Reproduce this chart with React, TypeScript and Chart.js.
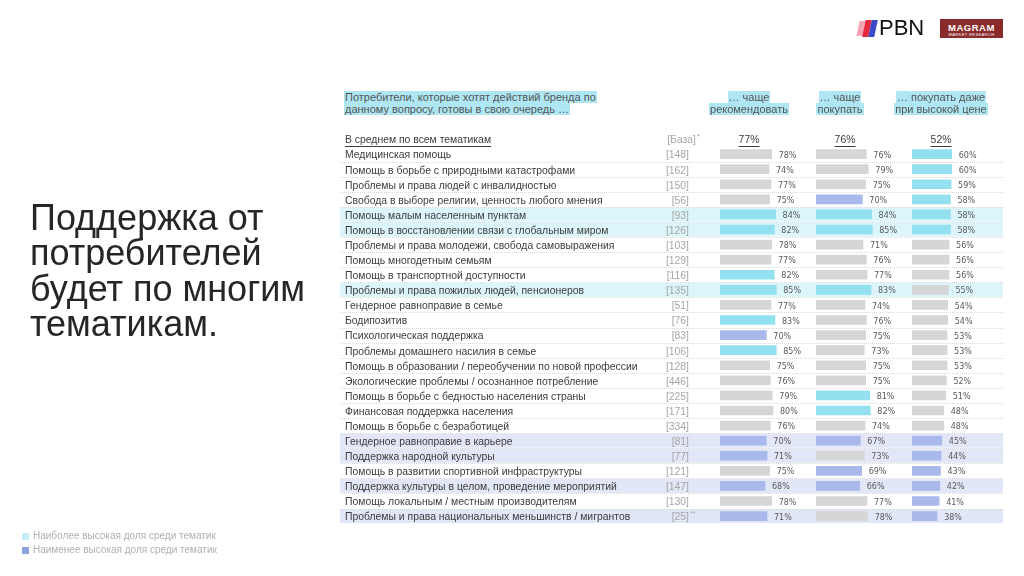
import React, { useEffect, useRef } from "react";
import { Chart, registerables } from "chart.js";

Chart.register(...registerables);

const topics = [
  "Медицинская помощь",
  "Помощь в борьбе с природными катастрофами",
  "Проблемы и права людей с инвалидностью",
  "Свобода в выборе религии, ценность любого мнения",
  "Помощь малым населенным пунктам",
  "Помощь в восстановлении связи с глобальным миром",
  "Проблемы и права молодежи, свобода самовыражения",
  "Помощь многодетным семьям",
  "Помощь в транспортной доступности",
  "Проблемы и права пожилых людей, пенсионеров",
  "Гендерное равноправие в семье",
  "Бодипозитив",
  "Психологическая поддержка",
  "Проблемы домашнего насилия в семье",
  "Помощь в образовании / переобучении по новой профессии",
  "Экологические проблемы / осознанное потребление",
  "Помощь в борьбе с бедностью населения страны",
  "Финансовая поддержка населения",
  "Помощь в борьбе с безработицей",
  "Гендерное равноправие в карьере",
  "Поддержка народной культуры",
  "Помощь в развитии спортивной инфраструктуры",
  "Поддержка культуры в целом, проведение мероприятий",
  "Помощь локальным / местным производителям",
  "Проблемы и права национальных меньшинств / мигрантов",
];

const bases = [148, 162, 150, 56, 93, 126, 103, 129, 116, 135, 51, 76, 83, 106, 128, 446, 225, 171, 334, 81, 77, 121, 147, 130, 25];
const baseNotes = ["", "", "", "", "", "", "", "", "", "", "", "", "", "", "", "", "", "", "", "", "", "", "", "", "**"];

const recommend = [78, 74, 77, 75, 84, 82, 78, 77, 82, 85, 77, 83, 70, 85, 75, 76, 79, 80, 76, 70, 71, 75, 68, 78, 71];
const buy = [76, 79, 75, 70, 84, 85, 71, 76, 77, 83, 74, 76, 75, 73, 75, 75, 81, 82, 74, 67, 73, 69, 66, 77, 78];
const premium = [60, 60, 59, 58, 58, 58, 56, 56, 56, 55, 54, 54, 53, 53, 53, 52, 51, 48, 48, 45, 44, 43, 42, 41, 38];

// "h" = highest share among topics, "l" = lowest share, "" = ordinary
const recommendMarks = ["", "", "", "", "h", "h", "", "", "h", "h", "", "h", "l", "h", "", "", "", "", "", "l", "l", "", "l", "", "l"];
const buyMarks = ["", "", "", "l", "h", "h", "", "", "", "h", "", "", "", "", "", "", "h", "h", "", "l", "", "l", "l", "", ""];
const premiumMarks = ["h", "h", "h", "h", "h", "h", "", "", "", "", "", "", "", "", "", "", "", "", "", "l", "l", "l", "l", "l", "l"];
const rowMarks = ["", "", "", "", "h", "h", "", "", "", "h", "", "", "", "", "", "", "", "", "", "l", "l", "", "l", "", "l"];

const averageLabel = "В среднем по всем тематикам";
const baseHeader = "[База]";
const averages = [77, 76, 52];

const columnTitles = [
  ["… чаще", "рекомендовать"],
  ["… чаще", "покупать"],
  ["… покупать даже", "при высокой цене"],
];
const questionLines = ["Потребители, которые хотят действий бренда по", "данному вопросу, готовы в свою очередь …"];
const titleLines = ["Поддержка от", "потребителей", "будет по многим", "тематикам."];
const legendItems = [
  { text: "Наиболее высокая доля среди тематик", color: "#c6eef7" },
  { text: "Наименее высокая доля среди тематик", color: "#8fa3dc" },
];

const BAR_COLORS: Record<string, string> = { h: "#93e0f0", l: "#a9b9ec", "": "#d6d6d6" };
const ROW_COLORS: Record<string, string> = { h: "#dcf5fa", l: "#e2e7f8", "": "" };
const TEXT = "#3c3c3c";
const LABEL_FONT = '10.4px "Liberation Sans", Arial, sans-serif';
const VALUE_FONT = '8px "DejaVu Sans", Verdana, sans-serif';

const TABLE_LEFT = 340;
const TABLE_RIGHT = 1003;
const TEXT_SHIFT = 1.5;

const tablePlugin = {
  id: "tablePainter",
  beforeDatasetsDraw(chart: any) {
    const { ctx } = chart;
    const y = chart.scales.y;
    const band = y.height / y.getLabels().length;
    ctx.save();
    topics.forEach((_, i) => {
      const cy = y.getPixelForValue(i + 1);
      const c = ROW_COLORS[rowMarks[i]];
      if (c) {
        ctx.fillStyle = c;
        ctx.fillRect(TABLE_LEFT, cy - band / 2 + 0.5, TABLE_RIGHT - TABLE_LEFT, band - 1);
      }
    });
    ctx.strokeStyle = "#dadada";
    ctx.lineWidth = 1;
    ctx.setLineDash([1, 1]);
    for (let i = 1; i < topics.length; i++) {
      const ly = Math.round(y.getPixelForValue(i) + band / 2) + 0.5;
      ctx.beginPath();
      ctx.moveTo(TABLE_LEFT, ly);
      ctx.lineTo(TABLE_RIGHT, ly);
      ctx.stroke();
    }
    ctx.restore();
  },
  afterDatasetsDraw(chart: any) {
    const { ctx } = chart;
    const y = chart.scales.y;
    ctx.save();
    ctx.textBaseline = "middle";

    const underline = (x: number, yy: number, w: number, color: string) => {
      ctx.strokeStyle = color;
      ctx.lineWidth = 1;
      ctx.beginPath();
      ctx.moveTo(x, Math.round(yy) + 0.5);
      ctx.lineTo(x + w, Math.round(yy) + 0.5);
      ctx.stroke();
    };

    // header row
    const hy = y.getPixelForValue(0) + TEXT_SHIFT;
    ctx.font = LABEL_FONT;
    ctx.fillStyle = TEXT;
    ctx.textAlign = "left";
    ctx.fillText(averageLabel, 345, hy);
    underline(345, hy + 5, ctx.measureText(averageLabel).width, TEXT);
    ctx.fillStyle = "#a6a6a6";
    ctx.textAlign = "right";
    ctx.fillText(baseHeader, 696, hy);
    ctx.textAlign = "left";
    ctx.font = '7px "Liberation Sans", Arial, sans-serif';
    ctx.fillText("*", 697, hy - 3);

    ["x1", "x2", "x3"].forEach((id, k) => {
      const sc = chart.scales[id];
      const cx = sc.left + 29;
      const txt = averages[k] + "%";
      ctx.font = LABEL_FONT;
      ctx.fillStyle = TEXT;
      ctx.textAlign = "center";
      ctx.fillText(txt, cx, hy);
      const w = ctx.measureText(txt).width;
      underline(cx - w / 2, hy + 5, w, TEXT);
    });

    // topic rows
    topics.forEach((t, i) => {
      const cy = y.getPixelForValue(i + 1) + TEXT_SHIFT;
      ctx.font = LABEL_FONT;
      ctx.fillStyle = TEXT;
      ctx.textAlign = "left";
      ctx.fillText(t, 345, cy);
      ctx.fillStyle = "#a6a6a6";
      ctx.textAlign = "right";
      ctx.fillText("[" + bases[i] + "]", 689, cy);
      if (baseNotes[i]) {
        ctx.textAlign = "left";
        ctx.font = '7px "Liberation Sans", Arial, sans-serif';
        ctx.fillText(baseNotes[i], 690, cy - 3);
      }
    });

    // value labels
    ctx.font = VALUE_FONT;
    ctx.fillStyle = "#5a5a5a";
    ctx.textAlign = "left";
    chart.data.datasets.forEach((ds: any, d: number) => {
      const meta = chart.getDatasetMeta(d);
      meta.data.forEach((bar: any, i: number) => {
        const v = ds.data[i];
        if (v == null) return;
        ctx.fillText(v + "%", bar.x + 7, bar.y + 1.5);
      });
    });
    ctx.restore();
  },
};

function ChartTable() {
  const ref = useRef<HTMLCanvasElement | null>(null);
  useEffect(() => {
    if (!ref.current) return;
    const labels = [averageLabel, ...topics];
    const mk = (vals: number[], marks: string[], axis: string) => ({
      data: [null, ...vals],
      backgroundColor: [null, ...marks.map((m) => BAR_COLORS[m])],
      xAxisID: axis,
      yAxisID: "y",
      barThickness: 9,
      grouped: false,
      borderWidth: 0,
    });
    const axis = (extra: any = {}) => ({
      type: "linear",
      position: "bottom",
      stack: "cols",
      stackWeight: 1,
      min: 0,
      max: 145,
      display: false,
      grid: { display: false },
      ...extra,
    });
    const chart = new Chart(ref.current, {
      type: "bar",
      data: {
        labels,
        datasets: [mk(recommend, recommendMarks, "x1"), mk(buy, buyMarks, "x2"), mk(premium, premiumMarks, "x3")] as any,
      },
      options: {
        indexAxis: "y",
        animation: false,
        responsive: false,
        maintainAspectRatio: false,
        layout: { padding: { left: 720, right: 16, top: 131.5, bottom: 52.4 } },
        plugins: { legend: { display: false }, tooltip: { enabled: false } },
        scales: {
          y: { type: "category", display: false, grid: { display: false } },
          x1: axis(),
          x2: axis(),
          x3: axis(),
        } as any,
      },
      plugins: [tablePlugin as any],
    });
    return () => chart.destroy();
  }, []);
  return <canvas ref={ref} width={1024} height={576} style={{ position: "absolute", left: 0, top: 0, width: 1024, height: 576 }} />;
}

const hl: React.CSSProperties = { background: "#aee7f3", padding: "0 1px" };

export default function App() {
  return (
    <div style={{ position: "absolute", left: 0, top: 0, width: 1024, height: 576, background: "#fff", overflow: "hidden", fontFamily: '"Liberation Sans", Arial, sans-serif' }}>
      <ChartTable />
      {/* title */}
      <div style={{ position: "absolute", left: 30, top: 199.5, fontSize: 36, lineHeight: "35.5px", color: "#262626" }}>
        {titleLines.map((l, i) => (
          <div key={i}>{l}</div>
        ))}
      </div>
      {/* question header */}
      <div style={{ position: "absolute", left: 344, top: 91, fontSize: 11, lineHeight: "12px", color: "#555" }}>
        {questionLines.map((l, i) => (
          <div key={i}>
            <span style={hl}>{l}</span>
          </div>
        ))}
      </div>
      {/* column titles */}
      {columnTitles.map((lines, k) => (
        <div key={k} style={{ position: "absolute", left: [749, 840, 941][k] - 60, width: 120, top: 91, fontSize: 11, lineHeight: "12px", color: "#555", textAlign: "center" }}>
          {lines.map((l, i) => (
            <div key={i}>
              <span style={hl}>{l}</span>
            </div>
          ))}
        </div>
      ))}
      {/* legend */}
      {legendItems.map((it, i) => (
        <div key={i} style={{ position: "absolute", left: 22, top: 530 + i * 14, fontSize: 10, lineHeight: "12px", color: "#b0b0b0", display: "flex", alignItems: "center" }}>
          <span style={{ display: "inline-block", width: 7, height: 7, background: it.color, marginRight: 4 }} />
          {it.text}
        </div>
      ))}
      {/* logos */}
      <div style={{ position: "absolute", left: 858, top: 17, height: 22, display: "flex", alignItems: "center" }}>
        <div style={{ position: "relative", width: 20, height: 18 }}>
          <div style={{ position: "absolute", left: 0, top: 2, width: 7, height: 15, background: "#f4a3b0", transform: "skewX(-12deg)" }} />
          <div style={{ position: "absolute", left: 6, top: 1, width: 6, height: 17, background: "#e5283c", transform: "skewX(-12deg)" }} />
          <div style={{ position: "absolute", left: 12, top: 1, width: 6, height: 17, background: "#3949c8", transform: "skewX(-12deg)" }} />
        </div>
        <span style={{ fontSize: 22, fontWeight: 500, color: "#111", marginLeft: 1, letterSpacing: 0, fontFamily: '"Liberation Sans", Arial, sans-serif' }}>PBN</span>
      </div>
      <div style={{ position: "absolute", left: 940, top: 19, width: 63, height: 19, background: "#8a2a2a", color: "#fff", textAlign: "center" }}>
        <div style={{ fontSize: 9.5, fontWeight: 700, lineHeight: "11px", marginTop: 3, letterSpacing: 0.5 }}>MAGRAM</div>
        <div style={{ fontSize: 4, lineHeight: "4px", letterSpacing: 0.4 }}>MARKET RESEARCH</div>
      </div>
    </div>
  );
}
